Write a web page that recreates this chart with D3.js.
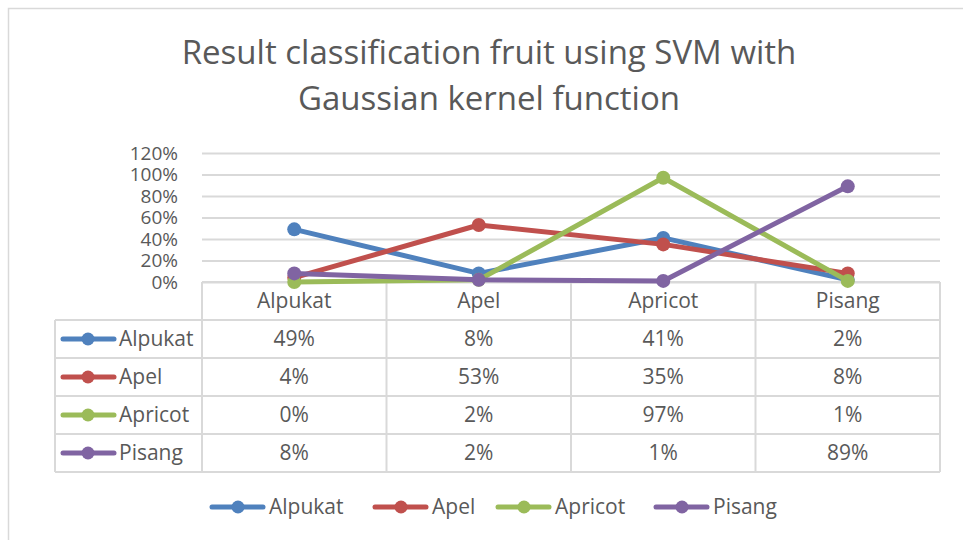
<!DOCTYPE html>
<html>
<head>
<meta charset="utf-8">
<script src="https://cdn.jsdelivr.net/npm/d3@7"></script>
<style>
  body { margin: 0; background: #fff; }
  svg text { font-family: "Open Sans", sans-serif; fill: #595959; }
</style>
</head>
<body>
<svg id="chart" width="963" height="540"></svg>
<script>
// data
const categories = ["Alpukat", "Apel", "Apricot", "Pisang"];
const seriesNames = ["Alpukat", "Apel", "Apricot", "Pisang"];
const alpukatValues = [0.49, 0.08, 0.41, 0.02];
const apelValues = [0.04, 0.53, 0.35, 0.08];
const apricotValues = [0.00, 0.02, 0.97, 0.01];
const pisangValues = [0.08, 0.02, 0.01, 0.89];
const yTicks = [0, 0.2, 0.4, 0.6, 0.8, 1.0, 1.2];
const colors = ["#4f81bd", "#c0504d", "#9bbb59", "#8064a2"];

const series = seriesNames.map((name, i) => ({
  name: name,
  values: [alpukatValues, apelValues, apricotValues, pisangValues][i],
  color: colors[i]
}));

const svg = d3.select("#chart");
const grid = "#d9d9d9";

// chart border
svg.append("rect")
  .attr("x", 8.5).attr("y", 8.5)
  .attr("width", 980).attr("height", 560)
  .attr("fill", "none").attr("stroke", grid).attr("stroke-width", 1.5);

// title
svg.append("text")
  .attr("x", 489).attr("y", 64)
  .attr("text-anchor", "middle")
  .style("font-size", "33px")
  .text("Result classification fruit using SVM with");
svg.append("text")
  .attr("x", 489).attr("y", 110)
  .attr("text-anchor", "middle")
  .style("font-size", "33px")
  .text("Gaussian kernel function");

// scales
const x = d3.scaleBand().domain(categories).range([202, 940]);
const y = d3.scaleLinear().domain([0, 1.2]).range([282, 153]);
const cx = d => x(d) + x.bandwidth() / 2;

// gridlines + y labels
const yAxis = svg.append("g")
  .attr("transform", "translate(202,0)")
  .call(d3.axisLeft(y).tickValues(yTicks).tickFormat(d3.format(".0%")).tickSize(-738).tickPadding(24));
yAxis.select(".domain").remove();
yAxis.selectAll(".tick line").attr("stroke", grid).attr("stroke-width", 2);
yAxis.selectAll(".tick text")
  .attr("fill", "#595959")
  .style("font-size", "19px");

// data table
const rowNames = ["header"].concat(seriesNames);
const rows = d3.scaleBand().domain(rowNames).range([282, 472]);
const table = svg.append("g");

// horizontal rules
rowNames.forEach((r, i) => {
  table.append("line")
    .attr("x1", i === 0 ? 202 : 55).attr("x2", 940)
    .attr("y1", rows(r)).attr("y2", rows(r))
    .attr("stroke", grid).attr("stroke-width", 2);
});
table.append("line")
  .attr("x1", 55).attr("x2", 940)
  .attr("y1", 472).attr("y2", 472)
  .attr("stroke", grid).attr("stroke-width", 2);

// vertical rules
categories.forEach(c => {
  table.append("line")
    .attr("x1", x(c)).attr("x2", x(c))
    .attr("y1", 282).attr("y2", 472)
    .attr("stroke", grid).attr("stroke-width", 2);
});
table.append("line")
  .attr("x1", 940).attr("x2", 940).attr("y1", 282).attr("y2", 472)
  .attr("stroke", grid).attr("stroke-width", 2);
table.append("line")
  .attr("x1", 55).attr("x2", 55).attr("y1", rows("Alpukat")).attr("y2", 472)
  .attr("stroke", grid).attr("stroke-width", 2);

// header labels
table.selectAll(".head")
  .data(categories)
  .enter()
  .append("text")
  .attr("x", d => cx(d))
  .attr("y", rows("header") + rows.bandwidth() / 2)
  .attr("dy", "0.35em")
  .attr("text-anchor", "middle")
  .style("font-size", "21px")
  .text(d => d);

// cell values and row keys
series.forEach(s => {
  const ry = rows(s.name) + rows.bandwidth() / 2;
  table.append("line")
    .attr("x1", 63).attr("x2", 114).attr("y1", ry).attr("y2", ry)
    .attr("stroke", s.color).attr("stroke-width", 5).attr("stroke-linecap", "round");
  table.append("circle")
    .attr("cx", 88).attr("cy", ry).attr("r", 6.5).attr("fill", s.color);
  table.append("text")
    .attr("x", 119).attr("y", ry).attr("dy", "0.35em")
    .style("font-size", "21px")
    .text(s.name);
  table.selectAll(null)
    .data(s.values)
    .enter()
    .append("text")
    .attr("x", (d, i) => cx(categories[i]))
    .attr("y", ry).attr("dy", "0.35em")
    .attr("text-anchor", "middle")
    .style("font-size", "21px")
    .text(d => d3.format(".0%")(d));
});

// lines
const line = d3.line()
  .x((d, i) => cx(categories[i]))
  .y(d => y(d));

series.forEach(s => {
  svg.append("path")
    .datum(s.values)
    .attr("d", line)
    .attr("fill", "none")
    .attr("stroke", s.color)
    .attr("stroke-width", 5)
    .attr("stroke-linejoin", "round");
  svg.selectAll(null)
    .data(s.values)
    .enter()
    .append("circle")
    .attr("cx", (d, i) => cx(categories[i]))
    .attr("cy", d => y(d))
    .attr("r", 7)
    .attr("fill", s.color);
});

// legend
const legendX = [210, 373, 496, 654];
const legend = svg.append("g");
series.forEach((s, i) => {
  const lx = legendX[i];
  legend.append("line")
    .attr("x1", lx + 2).attr("x2", lx + 53).attr("y1", 507).attr("y2", 507)
    .attr("stroke", s.color).attr("stroke-width", 5).attr("stroke-linecap", "round");
  legend.append("circle")
    .attr("cx", lx + 28).attr("cy", 507).attr("r", 6.5).attr("fill", s.color);
  legend.append("text")
    .attr("x", lx + 59).attr("y", 507).attr("dy", "0.35em")
    .style("font-size", "21px")
    .text(s.name);
});
</script>
</body>
</html>
